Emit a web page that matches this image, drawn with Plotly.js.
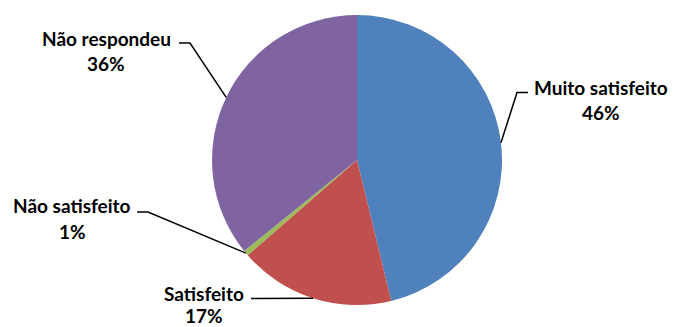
<!DOCTYPE html>
<html>
<head>
<meta charset="utf-8">
<script src="https://cdn.plot.ly/plotly-3.0.1.min.js"></script>
<style>html,body{margin:0;padding:0;background:#fff;}#chart{width:675px;height:327px;}</style>
</head>
<body>
<div id="chart"></div>
<script>
// ---- data ----
var categories = ["Muito satisfeito", "Satisfeito", "Não satisfeito", "Não respondeu"];
var values = [46.2, 17.4, 0.6, 35.8];
var percentLabels = ["46%", "17%", "1%", "36%"];

// ---- styling / layout ----
var colors = ["#4F81BD", "#C0504D", "#9BBB59", "#8064A2"];
var W = 675, H = 327;
var M = {l: 212, r: 173, t: 15, b: 22};
var PW = W - M.l - M.r, PH = H - M.t - M.b;
var CX = M.l + PW / 2, CY = M.t + PH / 2, R = Math.min(PW, PH) / 2;

// label text centres and elbow points (pixels), per category
var labelLayout = [
  {x: 601, y1: 87, y2: 112, elbow: [[528, 92.5], [517, 92.5]]},
  {x: 204, y1: 293, y2: 315, elbow: [[251, 298.5]]},
  {x: 72, y1: 205.5, y2: 231, elbow: [[137, 212], [148, 212]]},
  {x: 106, y1: 38, y2: 63, elbow: [[179, 43], [190, 43]]}
];

function px2x(px) { return (px - M.l) / PW; }
function py2y(py) { return 1 - (py - M.t) / PH; }

var total = values.reduce(function(a, b) { return a + b; }, 0);
var cum = 0;
var shapes = [], annotations = [];
var font = {family: "Lato, 'Open Sans', sans-serif", size: 19, color: "#000", weight: "bold"};
for (var i = 0; i < values.length; i++) {
  var mid = (cum + values[i] / 2) / total * 2 * Math.PI;
  cum += values[i];
  var ex = CX + R * Math.sin(mid), ey = CY - R * Math.cos(mid);
  var L = labelLayout[i];
  var pts = L.elbow.concat([[ex, ey]]);
  var path = pts.map(function(p, k) { return (k ? "L" : "M") + px2x(p[0]) + "," + py2y(p[1]); }).join(" ");
  shapes.push({type: "path", xref: "paper", yref: "paper", path: path, line: {color: "#000", width: 1.5}});
  annotations.push({xref: "paper", yref: "paper", x: px2x(L.x), y: py2y(L.y1), text: categories[i],
    showarrow: false, xanchor: "center", yanchor: "middle", font: font});
  annotations.push({xref: "paper", yref: "paper", x: px2x(L.x), y: py2y(L.y2), text: percentLabels[i],
    showarrow: false, xanchor: "center", yanchor: "middle", font: font});
}

var trace = {
  type: "pie",
  labels: categories,
  values: values,
  sort: false,
  direction: "clockwise",
  rotation: 0,
  textinfo: "none",
  hoverinfo: "label+percent",
  marker: {colors: colors, line: {width: 0}},
  domain: {x: [0, 1], y: [0, 1]}
};

var layout = {
  width: W, height: H,
  margin: M,
  showlegend: false,
  paper_bgcolor: "#fff",
  plot_bgcolor: "#fff",
  shapes: shapes,
  annotations: annotations
};

Plotly.newPlot("chart", [trace], layout, {displayModeBar: false, staticPlot: true});
</script>
</body>
</html>
